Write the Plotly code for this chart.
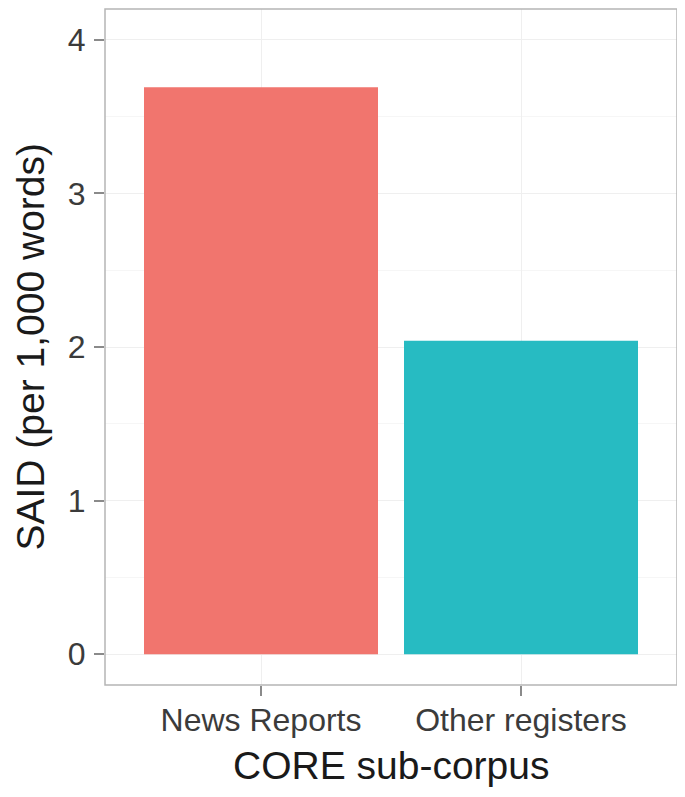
import plotly.graph_objects as go

categories = ['News Reports', 'Other registers']
said_per_1000 = [3.69, 2.04]
bar_colors = ['#F1756E', '#27BBC2']
y_ticks = [0, 1, 2, 3, 4]

fig = go.Figure()
fig.add_trace(go.Bar(x=categories, y=said_per_1000, marker_color=bar_colors,
                     marker_line_width=0, showlegend=False))

axis_style = dict(showline=False, ticks='outside', ticklen=10, tickwidth=1.5, tickcolor='#8a8a8a',
                  gridcolor='#efefef', gridwidth=1, zeroline=False, automargin=False,
                  tickfont=dict(family='Liberation Sans, Arial', size=32, color='#3b3b3b'))
title_font = dict(family='Liberation Sans, Arial', size=39, color='#1a1a1a')

fig.update_xaxes(axis_style, range=[-0.6, 1.6], ticklabelstandoff=-3)
fig.update_yaxes(axis_style, range=[-0.2, 4.2], tickvals=y_ticks, ticklabelstandoff=2,
                 minor=dict(showgrid=True, gridcolor='#f6f6f6', dtick=0.5, ticks=''))

# axis titles placed as annotations so they sit where the reference has them
fig.add_annotation(text='CORE sub-corpus', xref='paper', yref='paper', x=0.5, y=0,
                   xanchor='center', yanchor='top', yshift=-57, showarrow=False, font=title_font)
fig.add_annotation(text='SAID (per 1,000 words)', xref='paper', yref='paper', x=0, y=0.5,
                   xanchor='right', yanchor='middle', xshift=-52, textangle=-90,
                   showarrow=False, font=title_font)

# panel border
fig.add_shape(type='rect', xref='paper', yref='paper', x0=0, x1=1, y0=0, y1=1,
              line=dict(color='#b5b5b5', width=1.5), layer='above')

# page body adds an 8px offset, so the figure is sized to fit the window
fig.update_layout(width=677, height=789, bargap=0.1,
                  margin=dict(l=97, r=8, t=1, b=112),
                  plot_bgcolor='white', paper_bgcolor='white')

fig.write_html("out.html")
